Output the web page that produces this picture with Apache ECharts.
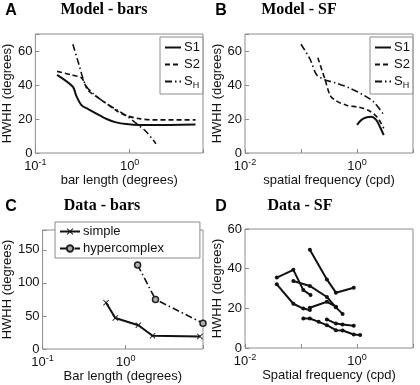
<!DOCTYPE html>
<html>
<head>
<meta charset="utf-8">
<script src="https://cdn.jsdelivr.net/npm/echarts@6/dist/echarts.min.js"></script>
<style>
  html, body { margin: 0; padding: 0; background: #fff; }
  #main { width: 420px; height: 385px; }
</style>
</head>
<body>
<div id="main"></div>
<script>
// A - model bars (x: bar length, y: HWHH)
var aS1X = [0.17, 0.25, 0.27, 0.31, 0.36, 0.45, 0.57, 0.72, 0.92, 1.27, 1.75, 5.0];
var aS1Y = [46, 39, 34, 28, 26, 23, 20, 18, 17, 16.5, 16.5, 16.8];
var aS2X = [0.17, 0.24, 0.31, 0.36, 0.45, 0.57, 0.72, 0.92, 1.27, 1.75, 5.0];
var aS2Y = [48, 46, 44, 37, 33, 29, 25, 22, 20.2, 19.5, 19.5];
var aSHX = [0.25, 0.29, 0.34, 0.41, 0.52, 0.7, 0.92, 1.17, 1.5, 1.9];
var aSHY = [64, 52, 40, 35, 30.5, 26, 22, 17.5, 12.5, 5.5];

// B - model SF
var bS1X = [1.0, 1.2, 1.5, 1.8, 2.2, 2.6, 3.0];
var bS1Y = [16.5, 19.5, 21, 21.3, 19.5, 15, 10.5];
var bS2X = [0.2, 0.27, 0.33, 0.41, 0.66, 1.07, 1.62, 2.3, 3.0];
var bS2Y = [56, 43, 34, 31, 28, 27, 25, 21, 14.5];
var bSHX = [0.1, 0.146, 0.19, 0.27, 0.44, 0.76, 1.32, 2.0, 3.0];
var bSHY = [64, 55, 46, 43, 41, 38, 34, 30, 22.5];

// C - data bars
var cSimpleX = [0.58, 0.75, 1.42, 2.1, 7.8];
var cSimpleY = [70, 47, 36, 20, 19];
var cHyperX = [1.39, 2.28, 8.5];
var cHyperY = [127, 75, 39];

// D - data SF, one array pair per cell
var dX1 = [0.144, 0.29, 0.42, 0.875];
var dY1 = [49.5, 34.6, 27.9, 30.4];
var dX2 = [0.037, 0.073, 0.11, 0.148];
var dY2 = [35.5, 39.4, 29.2, 26.7];
var dX3 = [0.037, 0.073, 0.11, 0.144];
var dY3 = [32.1, 22.3, 19.9, 19.2];
var dX4 = [0.144, 0.29, 0.42];
var dY4 = [20.3, 23.3, 20.8];
var dX5 = [0.073, 0.144, 0.29, 0.42, 0.553];
var dY5 = [33.8, 31.3, 25.7, 20.5, 17.2];
var dX6 = [0.11, 0.144, 0.207, 0.29, 0.42, 0.553, 0.875, 1.14];
var dY6 = [14.9, 14.9, 13.2, 11.5, 9.0, 8.8, 6.8, 6.5];
var dX7 = [0.29, 0.42, 0.553, 0.875];
var dY7 = [14.4, 12.3, 11.8, 11.2];

var SANS = 'Liberation Sans';
var INK = '#111';
var BOX = '#8c8c8c';

function zip(xs, ys) {
  return xs.map(function (x, i) { return [x, ys[i]]; });
}

// log axis labels as 10^n, step = keep every n-th decade
function powLabel(step) {
  return function (v) {
    var l = Math.log10(v);
    var e = Math.round(l);
    if (Math.abs(l - e) > 1e-6 || e % step !== 0) return '';
    return '10{sup|' + e + '}';
  };
}

function xAxis(idx, min, max, step, name) {
  return {
    gridIndex: idx,
    type: 'log',
    logBase: 10,
    min: min,
    max: max,
    name: name,
    nameLocation: 'middle',
    nameGap: 21,
    nameTextStyle: { fontFamily: SANS, fontSize: 13, color: INK },
    axisLine: { show: false },
    axisTick: { inside: true, length: 4, lineStyle: { color: BOX } },
    splitLine: { show: false },
    axisLabel: {
      margin: 5,
      showMinLabel: true,
      showMaxLabel: true,
      fontFamily: SANS,
      fontSize: 13,
      color: INK,
      formatter: powLabel(step),
      rich: { sup: { fontFamily: SANS, fontSize: 9, verticalAlign: 'top', color: INK, padding: [0, 0, 7, 0] } }
    }
  };
}

function yAxis(idx, max, interval) {
  return {
    gridIndex: idx,
    type: 'value',
    min: 0,
    max: max,
    interval: interval,
    name: 'HWHH (degrees)',
    nameLocation: 'middle',
    nameGap: 18,
    nameRotate: 90,
    nameTextStyle: { fontFamily: SANS, fontSize: 13, color: INK },
    axisLine: { show: false },
    axisTick: { inside: true, length: 4, lineStyle: { color: BOX } },
    splitLine: { show: false },
    axisLabel: {
      margin: 3,
      fontFamily: SANS,
      fontSize: 13,
      color: INK,
      formatter: function (v) { return v % interval === 0 ? String(v) : ''; }
    }
  };
}

function grid(left, top) {
  return {
    left: left, top: top, width: 168, height: 119,
    show: true, borderColor: BOX, borderWidth: 1, backgroundColor: '#fff'
  };
}

function curve(name, idx, xs, ys, type, width) {
  return {
    name: name,
    type: 'line',
    xAxisIndex: idx,
    yAxisIndex: idx,
    data: zip(xs, ys),
    symbol: 'none',
    smooth: 0.3,
    clip: false,
    lineStyle: { color: INK, width: width, type: type },
    itemStyle: { color: INK }
  };
}

var DASH = [5, 3];
var DASHDOT = [7, 3, 1.5, 3];
var XMARK = 'path://M0,1L1,0L5,4L9,0L10,1L6,5L10,9L9,10L5,6L1,10L0,9L4,5Z';

var series = [
  curve('S1', 0, aS1X, aS1Y, 'solid', 2),
  curve('S2', 0, aS2X, aS2Y, DASH, 1.6),
  curve('SH', 0, aSHX, aSHY, DASHDOT, 1.6),
  curve('S1', 1, bS1X, bS1Y, 'solid', 2),
  curve('S2', 1, bS2X, bS2Y, DASH, 1.6),
  curve('SH', 1, bSHX, bSHY, DASHDOT, 1.6),
  {
    name: 'simple', type: 'line', xAxisIndex: 2, yAxisIndex: 2,
    data: zip(cSimpleX, cSimpleY), clip: false,
    symbol: XMARK, symbolSize: 6,
    lineStyle: { color: INK, width: 2 }, itemStyle: { color: INK }
  },
  {
    name: 'hypercomplex', type: 'line', xAxisIndex: 2, yAxisIndex: 2,
    data: zip(cHyperX, cHyperY), clip: false,
    symbol: 'circle', symbolSize: 6,
    lineStyle: { color: INK, width: 1.6, type: DASHDOT },
    itemStyle: { color: '#b0b0b0', borderColor: '#222', borderWidth: 1.5 }
  }
];

var dSets = [[dX1, dY1], [dX2, dY2], [dX3, dY3], [dX4, dY4], [dX5, dY5], [dX6, dY6], [dX7, dY7]];
dSets.forEach(function (s, i) {
  series.push({
    name: 'd' + (i + 1), type: 'line', xAxisIndex: 3, yAxisIndex: 3,
    data: zip(s[0], s[1]), clip: false,
    symbol: 'circle', symbolSize: 4,
    lineStyle: { color: INK, width: 2 }, itemStyle: { color: INK }
  });
});

function legend(names, left, top, itemWidth, padding, marks) {
  var l = {
    data: names,
    orient: 'vertical',
    left: left,
    top: top,
    itemWidth: itemWidth,
    itemHeight: 8,
    itemGap: 4,
    padding: padding,
    borderColor: BOX,
    borderWidth: 1,
    backgroundColor: '#fff',
    selectedMode: false,
    formatter: function (n) { return n === 'SH' ? 'S{sub|H}' : n; },
    textStyle: {
      fontFamily: SANS, fontSize: 13, color: INK, padding: [0, 0, 0, -2],
      rich: { sub: { fontFamily: SANS, fontSize: 9, verticalAlign: 'bottom', padding: [8, 0, 0, 0], color: INK } }
    }
  };
  if (!marks) {
    l.itemStyle = { color: 'transparent', borderWidth: 0, opacity: 0 };
  }
  return l;
}

function label(x, y, text, font) {
  return {
    type: 'text', x: x, y: y,
    style: { text: text, font: font, fill: '#000', textAlign: 'center', align: 'center' }
  };
}

var chart = echarts.init(document.getElementById('main'), null, { renderer: 'canvas' });
chart.setOption({
  animation: false,
  grid: [grid(35, 34), grid(245, 34), grid(35, 230), grid(245, 229)],
  xAxis: [
    xAxis(0, 0.1, 6, 1, 'bar length (degrees)'),
    xAxis(1, 0.01, 10, 2, 'spatial frequency (cpd)'),
    xAxis(2, 0.1, 8.5, 1, 'Bar length (degrees)'),
    xAxis(3, 0.01, 10, 2, 'Spatial frequency (cpd)')
  ],
  yAxis: [yAxis(0, 70, 20), yAxis(1, 70, 20), yAxis(2, 180, 50), yAxis(3, 60, 20)],
  legend: [
    legend(['S1', 'S2', 'SH'], 160, 37, 16, [4, 3, 4, 4], false),
    legend(['S1', 'S2', 'SH'], 370, 37, 16, [4, 3, 4, 4], false),
    legend(['simple', 'hypercomplex'], 55, 222, 20, [3, 36, 3, 4], true)
  ],
  graphic: [
    label(11, 3, 'A', 'bold 16px "Liberation Sans"'),
    label(104, 2, 'Model - bars', 'bold 16px "Liberation Serif"'),
    label(221, 3, 'B', 'bold 16px "Liberation Sans"'),
    label(299, 2, 'Model - SF', 'bold 16px "Liberation Serif"'),
    label(11, 199, 'C', 'bold 16px "Liberation Sans"'),
    label(102, 198, 'Data - bars', 'bold 16px "Liberation Serif"'),
    label(221, 199, 'D', 'bold 16px "Liberation Sans"'),
    label(300, 198, 'Data - SF', 'bold 16px "Liberation Serif"')
  ],
  series: series
});
</script>
</body>
</html>
